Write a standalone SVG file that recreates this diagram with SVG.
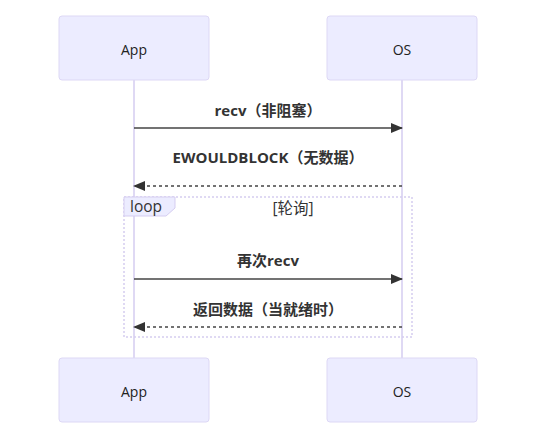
<svg xmlns="http://www.w3.org/2000/svg" width="543" height="437" viewBox="0 0 543 437">
<style>
.actor{fill:#ececff;stroke:#ddd8f5;stroke-width:1}
.atext{font-family:"Open Sans","DejaVu Sans",sans-serif;font-size:14px;fill:#222;text-anchor:middle;dominant-baseline:central}
.life{stroke:#d5cdf0;stroke-width:1.5}
.msg{stroke:#444;stroke-width:1.5;fill:none}
.dash{stroke-dasharray:3,3}
.mtext{font-family:"Open Sans","Noto Sans CJK SC",sans-serif;font-size:15px;font-weight:bold;fill:#333;text-anchor:middle}
.loop{fill:none;stroke:#d5cdf0;stroke-width:1.5;stroke-dasharray:2,2}
.ltext{font-family:"Open Sans","Noto Sans CJK SC",sans-serif;font-size:15.5px;fill:#333}
</style>
<defs>
<marker id="arr" viewBox="0 0 12 10" refX="11" refY="5" markerWidth="12" markerHeight="10" markerUnits="userSpaceOnUse" orient="auto">
<path d="M0,0 L12,5 L0,10 z" fill="#333"/>
</marker>
</defs>
<g id="lifelines">
<line class="life" x1="134" y1="80" x2="134" y2="358"/>
<line class="life" x1="402" y1="80" x2="402" y2="358"/>
</g>
<g id="actor-app-top"><rect class="actor" x="59" y="16" width="150" height="64" rx="3"/><text class="atext" x="134" y="49">App</text></g>
<g id="actor-os-top"><rect class="actor" x="327" y="16" width="150" height="64" rx="3"/><text class="atext" x="402" y="49">OS</text></g>
<g id="actor-app-bottom"><rect class="actor" x="59" y="358" width="150" height="64" rx="3"/><text class="atext" x="134" y="391">App</text></g>
<g id="actor-os-bottom"><rect class="actor" x="327" y="358" width="150" height="64" rx="3"/><text class="atext" x="402" y="391">OS</text></g>
<g id="loop">
<rect class="loop" x="124" y="197" width="288" height="140"/>
<path d="M124,197 L175,197 L175,208 L166,216 L124,216 z" fill="#ececff" stroke="#d5cdf0" stroke-width="1"/>
<text class="ltext" x="130" y="212">loop</text>
<text class="ltext" x="293" y="214" text-anchor="middle">[轮询]</text>
</g>
<g id="connectors">
<line class="msg" x1="134" y1="128" x2="402" y2="128" marker-end="url(#arr)"/>
<line class="msg dash" x1="402" y1="186" x2="134" y2="186" marker-end="url(#arr)"/>
<line class="msg" x1="134" y1="279" x2="402" y2="279" marker-end="url(#arr)"/>
<line class="msg dash" x1="402" y1="327" x2="134" y2="327" marker-end="url(#arr)"/>
</g>
<g id="labels">
<text class="mtext" x="268" y="116">recv（非阻塞）</text>
<text class="mtext" x="268" y="163">EWOULDBLOCK（无数据）</text>
<text class="mtext" x="268" y="266">再次recv</text>
<text class="mtext" x="268" y="315">返回数据（当就绪时）</text>
</g>
</svg>
